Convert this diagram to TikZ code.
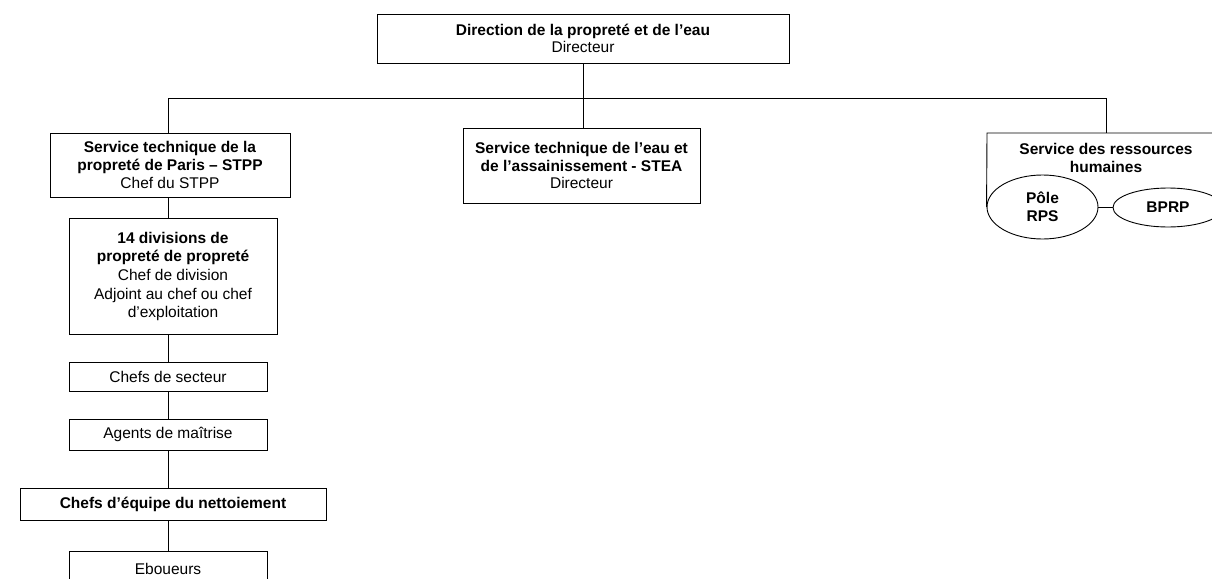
\documentclass[tikz,border=0pt]{standalone}
\usepackage{fontspec}
\setmainfont{Liberation Sans}
\usetikzlibrary{shapes.geometric}
\begin{document}
\begin{tikzpicture}[x=1pt,y=-1pt,
  box/.style={draw, line width=0.9pt, rectangle, align=center, inner sep=0pt, font=\fontsize{15.5}{17.6}\selectfont},
  ell/.style={draw, line width=0.9pt, ellipse, fill=white, align=center, inner sep=0pt, font=\fontsize{15.5}{17.6}\selectfont\bfseries},
  conn/.style={line width=0.9pt}]
\useasboundingbox (0,0) rectangle (1212,578);
\clip (0,0) rectangle (1212,578);
% boxes
\node[box, minimum width=412pt, minimum height=49pt] (dir) at (583,38.5) {\textbf{Direction de la propreté et de l’eau}\\Directeur};
\node[box, minimum width=240pt, minimum height=64pt] (stpp) at (170,165) {\textbf{Service technique de la}\\\textbf{propreté de Paris – STPP}\\Chef du STPP};
\node[box, minimum width=237pt, minimum height=75pt] (stea) at (581.5,165.5) {\textbf{Service technique de l’eau et}\\\textbf{de l’assainissement - STEA}\\Directeur};
\node[box, minimum width=208pt, minimum height=116pt, font=\fontsize{15.5}{18.6}\selectfont] (div) at (173,276.5) {\textbf{14 divisions de}\\\textbf{propreté de propreté}\\Chef de division\\Adjoint au chef ou chef\\d’exploitation};
\node[box, minimum width=198pt, minimum height=29pt] (sect) at (168,376.5) {Chefs de secteur};
\node[box, minimum width=198pt, minimum height=31pt] (agt) at (168,434.5) {Agents de maîtrise};
\node[box, minimum width=306pt, minimum height=32pt] (equ) at (173,504) {\textbf{Chefs d’équipe du nettoiement}};
\node[box, minimum width=198pt, minimum height=36pt] (ebo) at (168,569) {Eboueurs};
% human resources
\node[align=center, inner sep=0pt, font=\fontsize{15.5}{17.6}\selectfont\bfseries] (rh) at (1106,158) {Service des ressources\\humaines};
\node[ell, minimum width=111pt, minimum height=64pt] (pole) at (1042.5,207) {Pôle\\RPS};
\node[ell, minimum width=110pt, minimum height=39pt] (bprp) at (1168,207.5) {BPRP};
\coordinate (rhtl) at (987,133);
\coordinate (rhtr) at (1240,133);
\draw[conn] (pole.west) -- (rhtl) -- (rhtr);
\draw[conn] (pole.east) -- (pole.east -| bprp.west);
% connectors
\coordinate (busL) at (168,98);
\coordinate (busR) at (1106,98);
\draw[conn] (busL) -- (busR);
\draw[conn] (dir.south) -- (stea.north -| dir.south);
\draw[conn] (busL) -- (stpp.north -| busL);
\draw[conn] (busR) -- (rhtl -| busR);
\draw[conn] (stpp.south -| busL) -- (div.north -| busL);
\draw[conn] (div.south -| busL) -- (sect.north -| busL);
\draw[conn] (sect.south -| busL) -- (agt.north -| busL);
\draw[conn] (agt.south -| busL) -- (equ.north -| busL);
\draw[conn] (equ.south -| busL) -- (ebo.north -| busL);
\end{tikzpicture}
\end{document}
